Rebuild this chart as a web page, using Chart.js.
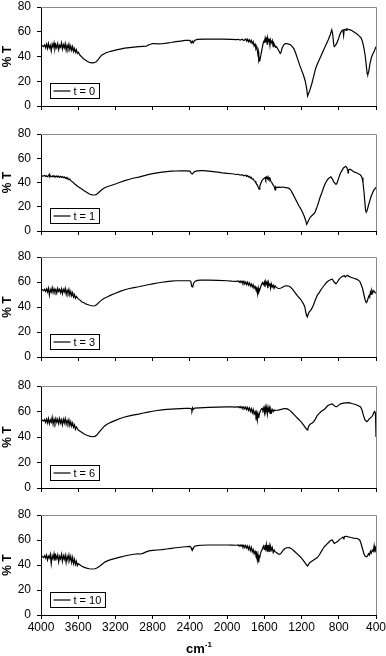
<!DOCTYPE html>
<html>
<head>
<meta charset="utf-8">
<script src="https://cdn.jsdelivr.net/npm/chart.js@4.4.1/dist/chart.umd.min.js"></script>
<style>
  body { margin: 0; background: #fff; }
  #wrap { position: relative; width: 386px; height: 656px; }
  canvas { position: absolute; left: 0; }
</style>
</head>
<body>
<div id="wrap">
  <canvas id="c0"></canvas>
  <canvas id="c1"></canvas>
  <canvas id="c2"></canvas>
  <canvas id="c3"></canvas>
  <canvas id="c4"></canvas>
</div>
<script>
// Tick labels
const xTicks = [4000, 3600, 3200, 2800, 2400, 2000, 1600, 1200, 800, 400];
const yTicks = [0, 20, 40, 60, 80];
const seriesLabels = ["t = 0", "t = 1", "t = 3", "t = 6", "t = 10"];

// Spectra: [wavenumber cm-1, %T]
const t0Data = [
  [4000,48.5],[3985,48.8],[3970,48],[3960,49.5],[3950,47],[3940,50],[3930,46.5],[3920,50.5],[3910,47],[3900,49],
  [3890,44.5],[3880,50],[3870,47.5],[3860,51],[3850,46],[3840,49.5],[3830,47],[3820,50.5],[3810,45.5],[3800,49],
  [3790,47.5],[3780,51],[3770,46],[3760,49.5],[3750,47],[3740,50.5],[3730,45],[3720,49],[3710,46.5],[3700,50],
  [3690,45.5],[3680,48.5],[3670,45],[3660,48],[3650,44],[3640,46.5],[3630,43.5],[3620,45.5],[3610,42.5],[3600,43.5],
  [3580,41],[3560,39.5],[3540,38],[3520,37],[3500,36],[3470,35],[3440,34.8],[3410,35.5],[3380,38],[3350,41],
  [3300,43],[3250,44.2],[3200,45.2],[3150,46],[3100,46.7],[3050,47.2],[3000,47.6],[2950,48],[2900,48.2],[2870,48.3],
  [2840,49.5],[2800,50.5],[2740,50.2],[2700,50.3],[2650,50.8],[2600,51.3],[2550,52],[2500,52.5],[2450,53],[2400,53],
  [2385,51],[2375,52.5],[2365,51],[2350,53],[2320,53.8],[2250,54],[2150,54],[2050,54],[1950,53.8],[1900,53.6],
  [1880,53.9],[1860,53.2],[1840,54],[1820,53],[1800,54.2],[1790,52.5],[1780,54],[1770,52],[1760,53.5],[1750,51.5],
  [1740,53],[1730,50.5],[1720,52],[1710,48.5],[1700,50],[1690,46],[1680,47.5],[1670,42],[1665,44],[1660,37],
  [1655,38.5],[1650,36],[1640,40],[1630,44],[1620,48],[1610,51.5],[1600,53],[1595,51],[1590,55],[1580,52],
  [1575,55.5],[1570,50],[1565,55],[1555,52],[1550,54.5],[1540,49],[1535,53.5],[1525,51],[1515,53],[1505,48],
  [1500,51],[1490,49.5],[1480,47.5],[1470,48],[1455,46],[1440,44],[1430,42.5],[1420,43.5],[1410,46.5],[1395,49],
  [1380,50.2],[1360,50.5],[1340,50],[1320,49.5],[1300,48],[1280,46],[1260,42],[1240,37.5],[1220,33],[1200,29],
  [1180,25],[1160,20],[1145,14],[1135,8],[1125,10],[1110,13],[1090,18],[1070,24],[1050,30],[1030,34],
  [1000,39],[970,44],[940,49],[910,54],[890,58],[875,61.5],[865,58],[855,50],[848,48],[835,49],
  [820,51],[800,55],[785,58.5],[770,60.5],[755,61.5],[748,57],[742,61.5],[730,62],[720,61],[712,62.5],
  [700,62],[680,61.5],[660,61],[640,60],[620,59],[600,58],[580,56.5],[560,55],[545,52],[530,47],
  [515,40],[505,33],[495,26],[488,25.5],[478,28],[465,34],[450,39],[435,42],[420,44],[410,46],[400,48]
];

const t1Data = [
  [4000,45.5],[3980,45.3],[3960,45.8],[3950,45],[3940,45.6],[3930,44.8],[3920,45.5],[3910,46.8],[3905,44.5],[3895,45.4],
  [3880,44.8],[3870,45.6],[3860,44.7],[3850,45.3],[3840,44.6],[3830,45.4],[3820,44.5],[3810,45.2],[3800,44.3],[3790,45.1],
  [3780,44.2],[3770,44.9],[3760,44],[3750,44.6],[3740,43.6],[3730,44.2],[3720,43],[3710,43.5],[3700,42.3],[3690,42.8],
  [3680,41.5],[3660,40.5],[3640,39],[3620,37.8],[3600,36.5],[3570,35],[3540,33.5],[3510,32],[3480,30.5],[3450,29.8],
  [3420,29.7],[3400,30.3],[3380,31.8],[3350,33.8],[3320,35.5],[3290,36.5],[3250,37.5],[3200,38.8],[3150,40.2],[3100,41.5],
  [3050,42.7],[3000,43.7],[2950,44.5],[2900,45.5],[2850,46.5],[2800,47.3],[2750,48],[2700,48.6],[2650,49],[2600,49.3],
  [2550,49.5],[2500,49.6],[2450,49.6],[2400,49.4],[2385,47.5],[2375,47],[2365,47.8],[2350,49],[2320,49.6],[2280,49.8],
  [2250,49.8],[2200,49.4],[2150,49],[2100,48.5],[2050,48],[2000,47.6],[1950,47.2],[1900,46.6],[1880,46.8],[1860,46],
  [1840,46.5],[1820,45.5],[1800,46],[1790,45],[1780,45.6],[1770,44.5],[1760,45],[1750,43.8],[1740,44.2],[1730,42.8],
  [1720,43],[1710,41.5],[1700,41],[1690,39.5],[1680,38.5],[1670,37],[1662,35.5],[1655,34.5],[1648,37],[1640,39],
  [1625,41.5],[1610,43],[1600,43.5],[1590,44.2],[1585,42.5],[1575,44.5],[1565,43],[1560,44.6],[1550,42.5],[1540,43.5],
  [1530,41],[1520,40],[1510,38.5],[1500,37.5],[1490,35.8],[1485,34],[1478,36.5],[1470,35.8],[1450,36.2],[1430,36],
  [1400,36.3],[1370,35.8],[1350,35.5],[1330,35],[1310,33],[1290,30],[1270,27],[1250,24],[1230,21],[1210,18.5],
  [1190,15.5],[1170,12],[1155,8.5],[1145,5.5],[1135,7],[1120,9.5],[1105,11.5],[1085,13],[1070,14],[1055,15.5],
  [1040,18.5],[1020,23],[1000,28],[980,32],[960,36.5],[940,40],[920,42.5],[900,44],[885,44.7],[870,43],
  [850,40],[830,38.5],[820,39.2],[810,41.5],[795,45],[780,48],[765,50],[750,52],[735,52.8],[725,53.3],
  [715,52.5],[705,50.5],[700,48],[695,50.5],[680,51],[665,50.3],[650,49.5],[630,48.5],[610,48],[590,47.2],
  [570,46.5],[560,45.5],[550,44],[540,40],[530,33],[520,24],[512,17],[505,15.5],[495,17],[485,20],
  [470,24],[455,28],[440,31],[425,33.5],[410,35],[400,36]
];

const t3Data = [
  [4000,53.5],[3985,53.8],[3970,53],[3960,54.2],[3950,52.5],[3940,54.5],[3930,52],[3920,55],[3910,49.5],[3900,54],
  [3890,52],[3880,55.5],[3870,51.5],[3860,54.5],[3850,52],[3840,54],[3830,51],[3820,55],[3810,52.5],[3800,54],
  [3790,51.5],[3780,54.5],[3770,50.5],[3760,54],[3750,52],[3740,55],[3730,50],[3720,53.5],[3710,51],[3700,54],
  [3690,49.5],[3680,52.5],[3670,49],[3660,51.5],[3650,48],[3640,50],[3630,47],[3620,48.5],[3600,46.5],[3580,45.5],
  [3560,44],[3540,43.5],[3520,42.5],[3500,42],[3470,41.2],[3440,40.8],[3420,41],[3400,42],[3380,43.5],[3350,45.5],
  [3320,47],[3290,48],[3250,49.5],[3200,51],[3150,52.5],[3100,53.8],[3050,54.8],[3000,55.5],[2950,56.2],[2900,57],
  [2850,57.8],[2800,58.5],[2750,59.2],[2700,59.8],[2650,60.3],[2600,60.7],[2550,61],[2500,61],[2450,61],[2400,61],
  [2390,60.5],[2382,57],[2375,56],[2368,57],[2360,59],[2345,60.5],[2320,61.3],[2280,61.5],[2200,61.5],[2100,61.3],
  [2000,61],[1950,60.7],[1900,60.5],[1880,60.8],[1870,59.8],[1860,60.7],[1850,59.5],[1840,60.6],[1830,59],[1820,60.5],
  [1810,58.5],[1800,60],[1790,58],[1780,59.8],[1770,57.5],[1760,59.2],[1750,56.8],[1740,58.5],[1730,56],[1720,57.8],
  [1710,55],[1700,56.5],[1690,54],[1680,55],[1672,50.5],[1665,55],[1658,52],[1650,53.5],[1640,56],[1630,58],
  [1620,59.5],[1610,58],[1600,60],[1593,56],[1585,60.5],[1578,58.5],[1570,60],[1563,55],[1555,59.5],[1548,57],
  [1540,59],[1533,55],[1525,58.5],[1515,56],[1505,57.5],[1495,55],[1485,57],[1470,55.5],[1455,55],[1440,54.8],
  [1420,55.2],[1400,56],[1380,56.8],[1360,57],[1340,56.8],[1320,56],[1300,54.5],[1280,52.5],[1260,50.5],[1240,48.5],
  [1220,47],[1200,45],[1180,42.5],[1165,40],[1155,36],[1145,33],[1138,32],[1130,34],[1118,36],[1100,37.5],
  [1085,39.5],[1070,42],[1050,46],[1030,49.5],[1010,51.5],[990,54],[970,56],[950,58],[930,59.8],[910,61],
  [890,61.8],[870,62.2],[850,60],[830,58.6],[815,60],[800,62],[780,63.5],[760,64.5],[740,65],[728,64],
  [720,64.8],[707,65.2],[690,64.5],[670,63.8],[640,63],[610,62.3],[590,61.5],[575,60.5],[560,58],[545,55],
  [530,50],[518,46],[505,43.5],[495,44.5],[485,47],[475,49],[468,48],[460,52],[452,50],[445,53.5],
  [435,51.5],[425,53],[415,52],[400,51]
];

const t6Data = [
  [4000,53],[3985,53.2],[3970,52.5],[3960,53.8],[3950,51.5],[3940,54],[3930,51],[3920,54.5],[3910,50.5],[3900,53.5],
  [3890,51.5],[3880,55.5],[3870,50],[3860,54],[3850,51],[3840,54.5],[3830,51.5],[3820,54],[3810,50.5],[3800,54.5],
  [3790,51],[3780,53.5],[3770,49.5],[3760,54],[3750,51],[3740,54.5],[3730,50],[3720,53],[3710,50.5],[3700,53.5],
  [3690,49],[3680,52],[3670,48.5],[3660,51],[3650,47.5],[3640,49.5],[3630,46],[3620,48],[3600,45.5],[3580,44.5],
  [3560,43.5],[3540,42.5],[3520,41.8],[3500,41.2],[3470,40.5],[3440,40.2],[3420,40.5],[3400,41.5],[3380,43.5],[3350,46],
  [3320,48.5],[3290,50],[3250,51.5],[3200,53],[3150,54.5],[3100,55.7],[3050,56.6],[3000,57.3],[2950,58],[2900,58.8],
  [2850,59.5],[2800,60.2],[2750,60.8],[2700,61.2],[2650,61.6],[2600,61.9],[2550,62.1],[2500,62.3],[2450,62.4],[2400,62.5],
  [2385,62],[2378,60.8],[2372,62.8],[2365,61.5],[2350,62.6],[2300,62.9],[2250,63.1],[2200,63.3],[2100,63.5],[2000,63.6],
  [1950,63.6],[1900,63.5],[1880,63.8],[1870,63],[1860,63.9],[1850,62.8],[1840,63.7],[1830,62.5],[1820,63.6],[1810,62],
  [1800,63.5],[1790,61.5],[1780,63.2],[1770,60.8],[1760,62.8],[1750,60],[1740,62.2],[1730,59],[1720,61.5],[1710,58],
  [1700,60],[1690,56.5],[1682,59],[1675,53.5],[1668,58],[1660,55],[1652,58.5],[1645,60],[1635,61.5],[1625,62.5],
  [1615,61],[1605,63.2],[1598,59],[1590,63.5],[1583,60.5],[1575,63.3],[1568,58],[1560,63],[1553,59.5],[1545,62.5],
  [1538,58.5],[1530,62],[1520,59.5],[1510,61.5],[1500,60],[1490,61.2],[1475,60.8],[1460,61],[1440,61.3],[1420,61.6],
  [1400,62],[1380,62.3],[1360,62.2],[1340,61.5],[1320,60.5],[1300,59],[1280,57.5],[1260,56],[1240,54.5],[1220,53],
  [1200,51.5],[1180,49.5],[1165,48],[1150,46.5],[1140,45.5],[1132,46.5],[1120,49],[1105,50.2],[1090,50.8],[1075,51.5],
  [1060,53],[1045,55],[1030,57],[1010,58.5],[990,60],[970,61],[950,62],[920,64.5],[895,65.5],[870,66],
  [855,65],[840,64],[820,63.8],[800,65],[780,66],[750,66.5],[720,66.8],[690,67],[660,66.3],[620,65.5],
  [590,64.5],[565,63.5],[550,61],[535,57],[520,53.5],[500,52],[490,52.5],[475,54],[460,55],[445,56],
  [435,57],[425,59],[415,60],[408,59],[404,55],[400,40]
];

const t10Data = [
  [4000,46.5],[3985,46.8],[3970,46],[3960,47.5],[3950,45.5],[3940,48],[3930,44],[3920,47],[3910,45.5],[3900,48.5],
  [3890,41],[3880,47.5],[3870,45],[3860,49],[3850,43.5],[3840,47.5],[3830,45],[3820,48],[3810,42.5],[3800,47],
  [3790,45],[3780,48.5],[3770,43],[3760,47.5],[3750,44.5],[3740,48],[3730,42],[3720,47],[3710,44],[3700,48],
  [3690,43.5],[3680,47],[3670,42],[3660,46],[3650,41],[3640,44.5],[3630,40.5],[3620,43],[3610,39.5],[3600,41],
  [3580,40],[3560,39],[3540,38.3],[3510,37.5],[3480,37],[3450,36.8],[3420,37],[3400,37.6],[3370,39],[3340,40.8],
  [3310,42.5],[3280,43.5],[3250,44.3],[3200,45.3],[3150,46.3],[3100,47.2],[3050,48],[3000,48.6],[2960,49],[2930,48.8],
  [2900,49.5],[2870,50.5],[2840,51.3],[2800,51.7],[2750,52],[2700,52.3],[2650,52.8],[2600,53.3],[2550,53.8],[2500,54.2],
  [2450,54.6],[2400,54.9],[2388,54],[2380,52.5],[2372,52],[2362,53.5],[2350,55],[2320,55.5],[2280,55.8],[2200,56],
  [2100,56],[2000,56],[1950,55.9],[1900,55.8],[1880,56],[1870,55.2],[1860,56],[1850,55],[1840,56],[1830,54.5],
  [1820,55.8],[1810,54],[1800,55.5],[1790,53.5],[1780,55.2],[1770,52.5],[1760,54.8],[1750,51.5],[1740,54],[1730,50.5],
  [1720,52.5],[1710,49],[1700,51],[1690,48],[1682,49.5],[1675,44],[1668,48],[1660,42],[1655,46],[1648,47],
  [1640,49.5],[1630,51.5],[1620,53],[1610,55],[1600,52.5],[1593,56],[1585,53],[1578,56.5],[1570,51],[1563,56],
  [1555,52.5],[1548,55.5],[1540,50.5],[1533,55],[1525,52],[1515,54],[1505,50],[1495,52],[1485,50.5],[1470,50],
  [1455,49],[1440,48.5],[1425,49],[1410,50.5],[1395,52],[1380,53],[1360,53.8],[1340,54],[1320,53.5],[1300,52.5],
  [1280,51.2],[1260,49.8],[1240,48.5],[1220,47],[1200,45.5],[1180,43.5],[1160,41.5],[1145,40],[1135,39.2],[1125,40.5],
  [1110,42],[1090,43],[1070,44],[1050,45],[1030,46],[1010,48],[990,50.5],[970,53],[950,55],[930,56.5],
  [910,58],[890,59.5],[870,60],[858,58.5],[848,57.3],[830,58],[810,59],[790,60.5],[770,61.5],[755,62.3],
  [745,61],[738,62.8],[720,63],[707,62.7],[690,62.4],[670,62],[640,61.5],[600,61.2],[575,60],[560,57],
  [545,53],[530,49],[515,47],[500,46.5],[490,47.5],[480,49],[470,48],[460,51],[450,49.5],[440,52],
  [430,51],[420,55.5],[412,50],[405,53],[400,51]
];

const seriesData = [t0Data, t1Data, t3Data, t6Data, t10Data];

// Layout of the five stacked panels (y of the 80 gridline, plot height)
const panelTops = [7, 134, 257, 386, 515];
const plotHeights = [99, 97, 100, 102, 100];
const FONT = "'Liberation Sans', Arial, sans-serif";

// grey frame on top and right of the plot area
const framePlugin = {
  id: "frame",
  afterDraw(chart) {
    const { ctx, chartArea: a } = chart;
    ctx.save();
    ctx.strokeStyle = "#8a8a8a";
    ctx.lineWidth = 1;
    ctx.beginPath();
    ctx.moveTo(a.left, Math.round(a.top) + 0.5);
    ctx.lineTo(Math.round(a.right) + 0.5, Math.round(a.top) + 0.5);
    ctx.lineTo(Math.round(a.right) + 0.5, a.bottom);
    ctx.stroke();
    ctx.restore();
  }
};

// boxed legend in the lower-left corner of the plot
const legendBox = {
  id: "legendBox",
  afterDraw(chart) {
    const { ctx, chartArea: a } = chart;
    const text = chart.data.datasets[0].label;
    ctx.save();
    ctx.font = "11px " + FONT;
    const w = ctx.measureText(text).width + 27;
    const h = 15;
    const x = Math.round(a.left + 9) + 0.5;
    const y = Math.round(a.bottom - 8 - h) + 0.5;
    ctx.fillStyle = "#fff";
    ctx.fillRect(x, y, w, h);
    ctx.strokeStyle = "#000";
    ctx.lineWidth = 1;
    ctx.strokeRect(x, y, Math.round(w), h);
    ctx.beginPath();
    ctx.lineWidth = 1.2;
    ctx.moveTo(x + 3, y + h / 2);
    ctx.lineTo(x + 20, y + h / 2);
    ctx.stroke();
    ctx.fillStyle = "#000";
    ctx.textBaseline = "middle";
    ctx.fillText(text, x + 23, y + h / 2 + 0.5);
    ctx.restore();
  }
};

// "cm-1" axis title with superscript
const unitTitle = {
  id: "unitTitle",
  afterDraw(chart) {
    const { ctx } = chart;
    ctx.save();
    ctx.fillStyle = "#000";
    ctx.textBaseline = "alphabetic";
    ctx.font = "bold 13px " + FONT;
    const cx = 186;
    const by = chart.height - 3;
    ctx.fillText("cm", cx, by);
    const cw = ctx.measureText("cm").width;
    ctx.font = "bold 8px " + FONT;
    ctx.fillText("-1", cx + cw, by - 6);
    ctx.restore();
  }
};

seriesData.forEach((pts, idx) => {
  const last = idx === seriesData.length - 1;
  const xH = last ? 41 : 8;
  const canvas = document.getElementById("c" + idx);
  canvas.width = 386;
  canvas.height = 7 + plotHeights[idx] + xH;
  canvas.style.top = (panelTops[idx] - 7) + "px";

  new Chart(canvas, {
    type: "line",
    data: {
      datasets: [{
        label: seriesLabels[idx],
        data: pts.map(p => ({ x: p[0], y: p[1] })),
        borderColor: "#000",
        borderWidth: 1.2,
        pointRadius: 0,
        tension: 0,
        fill: false
      }]
    },
    options: {
      responsive: false,
      animation: false,
      devicePixelRatio: 1,
      layout: { padding: { top: 7, right: 10, left: 0, bottom: 0 } },
      plugins: { legend: { display: false }, tooltip: { enabled: false } },
      scales: {
        x: {
          type: "linear",
          reverse: true,
          min: 400,
          max: 4000,
          afterBuildTicks: s => { s.ticks = xTicks.map(v => ({ value: v })); },
          afterFit: s => {
            s.height = xH;
            s.paddingLeft = 0;
            s.paddingRight = 0;
          },
          ticks: {
            display: last,
            autoSkip: false,
            maxRotation: 0,
            padding: 1,
            color: "#000",
            font: { family: FONT, size: 12 },
            callback: v => String(v)
          },
          grid: { drawOnChartArea: false, drawTicks: true, tickLength: 4, color: "#000" },
          border: { color: "#000", width: 1 }
        },
        y: {
          min: 0,
          max: 80,
          afterBuildTicks: s => { s.ticks = yTicks.map(v => ({ value: v })); },
          afterFit: s => {
            s.width = 41;
            s.paddingTop = 0;
            s.paddingBottom = 0;
          },
          ticks: {
            padding: 6,
            color: "#000",
            font: { family: FONT, size: 12 },
            callback: v => String(v)
          },
          title: {
            display: true,
            text: "% T",
            color: "#000",
            padding: 0,
            font: { family: FONT, size: 12, weight: "bold" }
          },
          grid: { drawOnChartArea: false, drawTicks: true, tickLength: 4, color: "#000" },
          border: { color: "#000", width: 1 }
        }
      }
    },
    plugins: last ? [framePlugin, legendBox, unitTitle] : [framePlugin, legendBox]
  });
});
</script>
</body>
</html>
